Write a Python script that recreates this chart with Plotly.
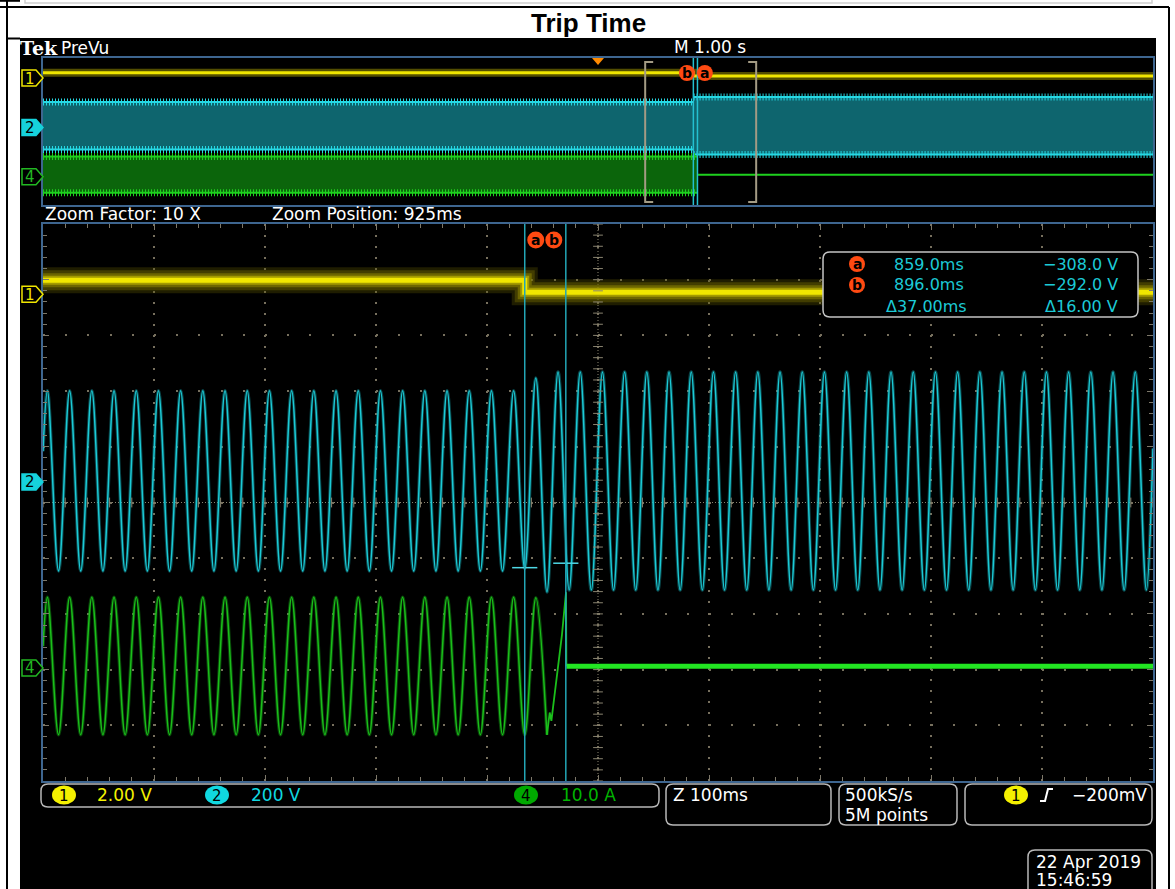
import numpy as np
import plotly.graph_objects as go

W, H = 1175, 889
FONT = "DejaVu Sans"

# ---- values ----
# vertical setup: units per division, ground marker offset in divisions
CH_SCALE = {1: 2.0, 2: 200.0, 4: 10.0}
CH_OFFSET_DIV = {1: 3.74, 2: 0.37, 4: -2.97}
CH_SCALE_LABELS = ["2.00 V", "200 V", "10.0 A"]

# zoom window (ms after trigger)
ZOOM_POS_MS = 925
ZOOM_SPAN_MS = 1000
TRIGGER_T_MS = 0

# cursors a / b and the ch2 readout
CURSOR_T_MS = [859.0, 896.0]
CURSOR_CH2_V = [-308.0, -292.0]

# ch1 (trip contact)
CH1_T_MS = [425, 859, 859, 1425]
CH1_V = [0.50, 0.50, 0.07, 0.07]

# ch2 / ch4 waveform extrema in the zoom window
PEAK_T_MS = [
    429, 449, 469, 489, 509, 529, 549, 569, 589, 609,
    629, 649, 669, 689, 709, 729, 749, 769, 789, 809,
    829, 849, 869, 889, 909, 929, 949, 969, 989, 1009,
    1029, 1049, 1069, 1089, 1109, 1129, 1149, 1169, 1189, 1209,
    1229, 1249, 1269, 1289, 1309, 1329, 1349, 1369, 1389, 1409,
]
VALLEY_T_MS = [
    439, 459, 479, 499, 519, 539, 559, 579, 599, 619,
    639, 659, 679, 699, 719, 739, 759, 779, 799, 819,
    839, 859, 879, 899, 919, 939, 959, 979, 999, 1019,
    1039, 1059, 1079, 1099, 1119, 1139, 1159, 1179, 1199, 1219,
    1239, 1259, 1279, 1299, 1319, 1339, 1359, 1379, 1399, 1419,
]
CH2_PEAK_V = [
    327, 327, 327, 327, 327, 327, 327, 327, 327, 327,
    327, 327, 327, 327, 327, 327, 327, 327, 327, 327,
    327, 327, 373, 395, 395, 395, 395, 395, 395, 395,
    395, 395, 395, 395, 395, 395, 395, 395, 395, 395,
    395, 395, 395, 395, 395, 395, 395, 395, 395, 395,
]
CH2_VALLEY_V = [
    -320, -320, -320, -320, -320, -320, -320, -320, -320, -320,
    -320, -320, -320, -320, -320, -320, -320, -320, -320, -320,
    -320, -312, -395, -388, -388, -388, -388, -388, -388, -388,
    -388, -388, -388, -388, -388, -388, -388, -388, -388, -388,
    -388, -388, -388, -388, -388, -388, -388, -388, -388, -388,
]
CH2_EDGE_T_MS = [425, 1425]
CH2_EDGE_V = [110, 120]

CH4_PEAK_A = [
    12.7, 12.7, 12.7, 12.7, 12.7, 12.7, 12.7, 12.7, 12.7, 12.7,
    12.7, 12.7, 12.7, 12.7, 12.7, 12.7, 12.7, 12.7, 12.7, 12.7,
    12.7, 12.7, 12.6,
]
CH4_VALLEY_A = [
    -12.0, -12.0, -12.0, -12.0, -12.0, -12.0, -12.0, -12.0, -12.0, -12.0,
    -12.0, -12.0, -12.0, -12.0, -12.0, -12.0, -12.0, -12.0, -12.0, -12.0,
    -12.0, -12.0, -12.0,
]
CH4_START_T_MS = 425
CH4_START_A = 3.9
CH4_TAIL_T_MS = [879, 881.5, 883, 892.5, 896.2, 896.5]
CH4_TAIL_A = [-12.0, -8.0, -9.5, 5.9, 13.6, 0.3]
CH4_OFF_T_MS = [896.5, 1425]
CH4_OFF_A = [0.3, 0.3]

# PreVu: whole 10 s record, envelopes
PV_CH1_T_MS = [-5000, 859, 859, 5000]
PV_CH1_V = [0.50, 0.50, 0.07, 0.07]
PV_CH2_T_MS = [[-5000, 857], [861, 5000]]
PV_CH2_TOP_V = [327, 395]
PV_CH2_BOT_V = [-320, -388]
PV_CH4_T_MS = [-5000, 896]
PV_CH4_TOP_A = 12.7
PV_CH4_BOT_A = -12.0
PV_CH4_OFF_T_MS = [896, 5000]
PV_CH4_OFF_A = 0.3

# ---- screen geometry (px) ----
MAIN = (43, 224, 1153, 781)
PREV = (43, 58, 1153, 205)
YEL, CYA, GRN = "#f0e600", "#1ccad6", "#1bbf1b"
ORANGE = "#ff4a12"
BORDER = "#3e6690"
TICK = "#7d786a"
BOX = "#b8b8b8"


def fx(x):
    return x / W


def fy(y):
    return 1 - y / H


def div(vals, ch):
    return [CH_OFFSET_DIV[ch] + v / CH_SCALE[ch] for v in np.atleast_1d(vals)]


def main_py(d):
    return (MAIN[1] + MAIN[3]) / 2 - d * (MAIN[3] - MAIN[1]) / 10


def prev_py(d):
    return (PREV[1] + PREV[3]) / 2 - d * (PREV[3] - PREV[1]) / 10


def main_px(t):
    return MAIN[0] + (t - (ZOOM_POS_MS - ZOOM_SPAN_MS / 2)) / ZOOM_SPAN_MS * (MAIN[2] - MAIN[0])


def prev_px(t):
    return PREV[0] + (t + 5000) / 10000 * (PREV[2] - PREV[0])


def rrect(x0, y0, x1, y1, r):
    p = lambda x, y: f"{fx(x):.5f},{fy(y):.5f}"
    return (f"M {p(x0 + r, y0)} L {p(x1 - r, y0)} Q {p(x1, y0)} {p(x1, y0 + r)} "
            f"L {p(x1, y1 - r)} Q {p(x1, y1)} {p(x1 - r, y1)} L {p(x0 + r, y1)} "
            f"Q {p(x0, y1)} {p(x0, y1 - r)} L {p(x0, y0 + r)} Q {p(x0, y0)} {p(x0 + r, y0)} Z")


def poly(pts):
    return "M " + " L ".join(f"{fx(x):.5f},{fy(y):.5f}" for x, y in pts) + " Z"


fig = go.Figure()
shapes = []
ann = []


def txt(x, y, s, color="white", size=17, xanchor="left", family=FONT):
    ann.append(dict(x=fx(x), y=fy(y), xref="paper", yref="paper", text=s, showarrow=False,
                    xanchor=xanchor, yanchor="middle", font=dict(family=family, size=size, color=color)))


def pshape(path, line="rgba(0,0,0,0)", fill=None, width=1.5, layer="above"):
    d = dict(type="path", xref="paper", yref="paper", path=path, line=dict(color=line, width=width), layer=layer)
    if fill:
        d["fillcolor"] = fill
    shapes.append(d)


def pline(x0, y0, x1, y1, color, width=2, layer="above", dash=None):
    d = dict(type="line", xref="paper", yref="paper", x0=fx(x0), y0=fy(y0), x1=fx(x1), y1=fy(y1),
             line=dict(color=color, width=width), layer=layer)
    if dash:
        d["line"]["dash"] = dash
    shapes.append(d)


def circle(cx, cy, r, fill, label=None, lcolor="black", size=14):
    shapes.append(dict(type="circle", xref="paper", yref="paper", x0=fx(cx - r), x1=fx(cx + r),
                       y0=fy(cy + r), y1=fy(cy - r), fillcolor=fill, line=dict(width=0), layer="above"))
    if label:
        txt(cx, cy, f"<b>{label}</b>", lcolor, size, "center")


def ellipse(cx, cy, rx, ry, fill, label):
    shapes.append(dict(type="circle", xref="paper", yref="paper", x0=fx(cx - rx), x1=fx(cx + rx),
                       y0=fy(cy + ry), y1=fy(cy - ry), fillcolor=fill, line=dict(width=0), layer="above"))
    txt(cx, cy + 1, label, "black", 15, "center")


# ---- page frame ----
pshape(poly([(20, 38), (1156, 38), (1156, 889), (20, 889)]), fill="#000000", layer="below")
pline(0, 7, 1169, 7, "black", 2)
pline(7, 0, 7, 889, "black", 2)
pline(1169, 7, 1169, 889, "black", 2)
pline(7, 38.5, 20, 38.5, "black", 2)
pline(0, 0.8, 20, 0.8, "black", 2)
shapes.append(dict(type="rect", xref="paper", yref="paper", x0=fx(25), x1=fx(1152), y0=fy(3), y1=fy(-4),
                   line=dict(color="#cfcfcf", width=1.5), layer="above"))
txt(588, 23, "<b>Trip Time</b>", "black", 26, "center", "Liberation Sans")

# ---- main (zoomed) window traces ----
ext = sorted(zip(PEAK_T_MS + VALLEY_T_MS + CH2_EDGE_T_MS, CH2_PEAK_V + CH2_VALLEY_V + CH2_EDGE_V))
t2, v2 = zip(*ext)
n4 = len(CH4_PEAK_A)
ext4 = sorted(zip(PEAK_T_MS[:n4] + VALLEY_T_MS[:n4] + [CH4_START_T_MS], CH4_PEAK_A + CH4_VALLEY_A + [CH4_START_A]))
t4, a4 = zip(*ext4)

# noisy ch1 band: stacked translucent strokes
for w, c in [(26, "rgba(90,82,0,0.35)"), (20, "rgba(120,110,0,0.4)"), (14, "rgba(160,150,0,0.45)"),
             (9, "rgba(200,190,0,0.6)"), (5, YEL)]:
    fig.add_trace(go.Scatter(x=CH1_T_MS, y=div(CH1_V, 1), mode="lines", line=dict(color=c, width=w),
                             hoverinfo="skip", showlegend=False))
fig.add_trace(go.Scatter(x=t2, y=div(v2, 2), mode="lines", hoverinfo="skip", showlegend=False,
                         line=dict(color="rgba(20,150,160,0.45)", width=3.5, shape="spline", smoothing=1)))
fig.add_trace(go.Scatter(x=t2, y=div(v2, 2), mode="lines", hoverinfo="skip", showlegend=False,
                         line=dict(color=CYA, width=1.5, shape="spline", smoothing=1)))
fig.add_trace(go.Scatter(x=t4, y=div(a4, 4), mode="lines", hoverinfo="skip", showlegend=False,
                         line=dict(color="rgba(20,150,20,0.45)", width=3.5, shape="spline", smoothing=1)))
fig.add_trace(go.Scatter(x=t4, y=div(a4, 4), mode="lines", hoverinfo="skip", showlegend=False,
                         line=dict(color=GRN, width=1.5, shape="spline", smoothing=1)))
fig.add_trace(go.Scatter(x=CH4_TAIL_T_MS, y=div(CH4_TAIL_A, 4), mode="lines", hoverinfo="skip",
                         showlegend=False, line=dict(color=GRN, width=1.8)))
fig.add_trace(go.Scatter(x=CH4_OFF_T_MS, y=div(CH4_OFF_A, 4), mode="lines", hoverinfo="skip",
                         showlegend=False, line=dict(color="#22e622", width=5)))

# centre crosshair of the graticule
ys = np.arange(-5, 5.01, 0.2)
fig.add_trace(go.Scatter(x=[ZOOM_POS_MS] * len(ys), y=ys, mode="markers", hoverinfo="skip", showlegend=False,
                         marker=dict(symbol="line-ew", size=7, line=dict(color="#8a8470", width=1))))
fig.add_trace(go.Scatter(x=np.linspace(ZOOM_POS_MS - 500, ZOOM_POS_MS + 500, 51), y=[0] * 51, mode="markers",
                         hoverinfo="skip", showlegend=False,
                         marker=dict(symbol="line-ns", size=7, line=dict(color="#8a8470", width=1))))
pline(main_px(ZOOM_POS_MS), MAIN[1], main_px(ZOOM_POS_MS), MAIN[3], "#8a8470", 1, "below", "1px,2px")
pline(MAIN[0], main_py(0), MAIN[2], main_py(0), "#8a8470", 1, "below", "1px,2px")

# cursors
for t in CURSOR_T_MS:
    shapes.append(dict(type="line", xref="x", yref="paper", x0=t, x1=t, y0=fy(MAIN[3]), y1=fy(MAIN[1]),
                       line=dict(color="#23a6b6", width=1.5), layer="above"))
    shapes.append(dict(type="line", xref="x2", yref="paper", x0=t, x1=t, y0=fy(PREV[3]), y1=fy(PREV[1]),
                       line=dict(color="#23c0d0", width=1.5), layer="above"))
fig.add_trace(go.Scatter(x=CURSOR_T_MS, y=div(CURSOR_CH2_V, 2), mode="markers", hoverinfo="skip",
                         showlegend=False,
                         marker=dict(symbol="line-ew", size=18, line=dict(color="#4fd8e6", width=1.5))))
circle(main_px(CURSOR_T_MS[0]) + 11, 240, 8.5, ORANGE, "a")
circle(main_px(CURSOR_T_MS[1]) - 12, 240, 8.5, ORANGE, "b")

# ---- PreVu window ----
for w, c in [(8, "rgba(150,140,0,0.55)"), (3, YEL)]:
    fig.add_trace(go.Scatter(x=PV_CH1_T_MS, y=div(PV_CH1_V, 1), mode="lines", xaxis="x2", yaxis="y2",
                             line=dict(color=c, width=w), hoverinfo="skip", showlegend=False))


def band(tt, top, bot, fill, edge):
    fig.add_trace(go.Scatter(x=tt, y=bot, mode="lines", xaxis="x2", yaxis="y2",
                             line=dict(color=edge, width=2), hoverinfo="skip", showlegend=False))
    fig.add_trace(go.Scatter(x=tt, y=top, mode="lines", xaxis="x2", yaxis="y2", fill="tonexty",
                             fillcolor=fill, line=dict(color=edge, width=2), hoverinfo="skip", showlegend=False))
    for y in (top, bot):
        fig.add_trace(go.Scatter(x=tt, y=y, mode="lines", xaxis="x2", yaxis="y2",
                                 line=dict(color=edge, width=7, dash="1px,2px"), hoverinfo="skip",
                                 showlegend=False))


for tt, top, bot in zip(PV_CH2_T_MS, PV_CH2_TOP_V, PV_CH2_BOT_V):
    band(tt, div([top, top], 2), div([bot, bot], 2), "rgba(16,112,122,0.9)", "#26d8e4")
band(PV_CH4_T_MS, div([PV_CH4_TOP_A] * 2, 4), div([PV_CH4_BOT_A] * 2, 4), "rgba(12,112,12,0.9)", "#1ed01e")
fig.add_trace(go.Scatter(x=PV_CH4_OFF_T_MS, y=div([PV_CH4_OFF_A] * 2, 4), mode="lines", xaxis="x2", yaxis="y2",
                         line=dict(color="#1ed01e", width=2), hoverinfo="skip", showlegend=False))

# zoom brackets and trigger marker in PreVu
for edge, s in [(ZOOM_POS_MS - ZOOM_SPAN_MS / 2, 1), (ZOOM_POS_MS + ZOOM_SPAN_MS / 2, -1)]:
    x = prev_px(edge)
    pshape(f"M {fx(x + s * 8):.5f},{fy(62):.5f} L {fx(x):.5f},{fy(62):.5f} L {fx(x):.5f},{fy(202):.5f} "
           f"L {fx(x + s * 8):.5f},{fy(202):.5f}", line="#a39b84", width=2)
tx = prev_px(TRIGGER_T_MS)
pshape(poly([(tx - 6, 58), (tx + 6, 58), (tx, 65)]), fill="#ff8a00")
circle(prev_px(CURSOR_T_MS[1]) - 10.5, 73, 8, ORANGE, "b")
circle(prev_px(CURSOR_T_MS[0]) + 11.5, 73, 8, ORANGE, "a")

# ---- channel ground markers ----
for ch, col, filled in [(1, YEL, False), (2, "#16d2dc", True), (4, "#22b822", False)]:
    for ypix in (main_py(CH_OFFSET_DIV[ch]), prev_py(CH_OFFSET_DIV[ch]) + 1.5):
        pshape(poly([(22, ypix - 8), (36, ypix - 8), (43, ypix), (36, ypix + 8), (22, ypix + 8)]),
               line=col, fill=col if filled else "#000000", width=1.5)
        txt(29.5, ypix + 0.5, str(ch), "black" if filled else col, 15, "center")

# ---- screen text ----
txt(18, 48, "<b>Tek</b>", "white", 19, "left", "DejaVu Serif")
txt(59, 48, "PreVu", "white", 17)
txt(672, 47, "M 1.00 s", "white", 17)
txt(43, 214, "Zoom Factor: 10 X", "white", 17)
txt(270, 214, f"Zoom Position: {ZOOM_POS_MS}ms", "white", 17)

# cursor readout box
pshape(rrect(823, 252, 1138, 317, 7), line="#c4c4c4", fill="#000000", width=1.5)
da, db = CURSOR_T_MS
va, vb = CURSOR_CH2_V
circle(857, 264, 8, ORANGE, "a")
circle(857, 285, 8, ORANGE, "b")
txt(892, 264, f"{da:.1f}ms", CYA, 16)
txt(892, 285, f"{db:.1f}ms", CYA, 16)
txt(884, 306, f"\u0394{db - da:.2f}ms", CYA, 16)
txt(1120, 264, f"{va:.1f} V".replace("-", "\u2212"), CYA, 16, "right")
txt(1120, 285, f"{vb:.1f} V".replace("-", "\u2212"), CYA, 16, "right")
txt(1120, 306, f"\u0394{abs(vb - va):.2f} V", CYA, 16, "right")

# bottom status bar
pshape(rrect(41, 784, 659, 807, 7), line=BOX, width=1.5)
ellipse(64, 795, 12, 9.5, "#f4f000", "1")
txt(95, 795, CH_SCALE_LABELS[0], "#f4f000", 17)
ellipse(217, 795, 12, 9.5, "#10d8e0", "2")
txt(249, 795, CH_SCALE_LABELS[1], "#10d8e0", 17)
ellipse(526, 795, 12, 9.5, "#00a800", "4")
txt(559, 795, CH_SCALE_LABELS[2], "#00b400", 17)
pshape(rrect(666, 784, 831, 825, 7), line=BOX, width=1.5)
txt(671, 795, f"Z {ZOOM_SPAN_MS // 10}ms", "white", 17)
pshape(rrect(839, 784, 957, 825, 7), line=BOX, width=1.5)
txt(843, 795, "500kS/s", "white", 17)
txt(843, 815, "5M points", "white", 17)
pshape(rrect(965, 784, 1152, 825, 7), line=BOX, width=1.5)
ellipse(1016, 795, 12, 9.5, "#f4f000", "1")
pshape(f"M {fx(1040):.5f},{fy(801):.5f} L {fx(1045):.5f},{fy(801):.5f} L {fx(1048):.5f},{fy(789):.5f} "
       f"L {fx(1053):.5f},{fy(789):.5f}", line="white", width=2)
txt(1149, 795, "\u2212200mV", "white", 17, "right")
pshape(rrect(1028, 850, 1152, 900, 7), line=BOX, width=1.5)
txt(1034, 862, "22 Apr 2019", "white", 17)
txt(1034, 880, "15:46:59", "white", 17)

# ---- axes ----
common = dict(showticklabels=False, zeroline=False, fixedrange=True, showline=True, linecolor=BORDER,
              linewidth=1.5, mirror=True)
fig.update_layout(
    width=W, height=H, autosize=False, margin=dict(l=0, r=0, t=0, b=0),
    paper_bgcolor="white", plot_bgcolor="rgba(0,0,0,0)", showlegend=False,
    xaxis=dict(domain=[fx(MAIN[0]), fx(MAIN[2])], range=[ZOOM_POS_MS - 500, ZOOM_POS_MS + 500],
               showgrid=True, gridcolor="#77705e", gridwidth=1.5, griddash="2px,9.1px", tick0=425, dtick=100,
               ticks="inside", ticklen=6, tickcolor=TICK, tickwidth=1,
               minor=dict(ticks="inside", tick0=425, dtick=20, ticklen=4, tickcolor=TICK, showgrid=False),
               **{**common, "mirror": "allticks"}),
    yaxis=dict(domain=[fy(MAIN[3]), fy(MAIN[1])], range=[-5, 5], showgrid=True, gridcolor="#77705e",
               gridwidth=1.5, griddash="2px,20.2px", tick0=0, dtick=1, ticks="inside", ticklen=6,
               tickcolor=TICK, tickwidth=1,
               minor=dict(ticks="inside", dtick=0.2, ticklen=4, tickcolor=TICK, showgrid=False),
               **{**common, "mirror": "allticks"}),
    xaxis2=dict(domain=[fx(PREV[0]), fx(PREV[2])], range=[-5000, 5000], anchor="y2", showgrid=False, **common),
    yaxis2=dict(domain=[fy(PREV[3]), fy(PREV[1])], range=[-5, 5], anchor="x2", showgrid=False, **common),
    shapes=shapes, annotations=ann,
)

fig.write_html("out.html", config={"displayModeBar": False},
               post_script="document.body.style.margin='0';document.body.style.overflow='hidden';")
